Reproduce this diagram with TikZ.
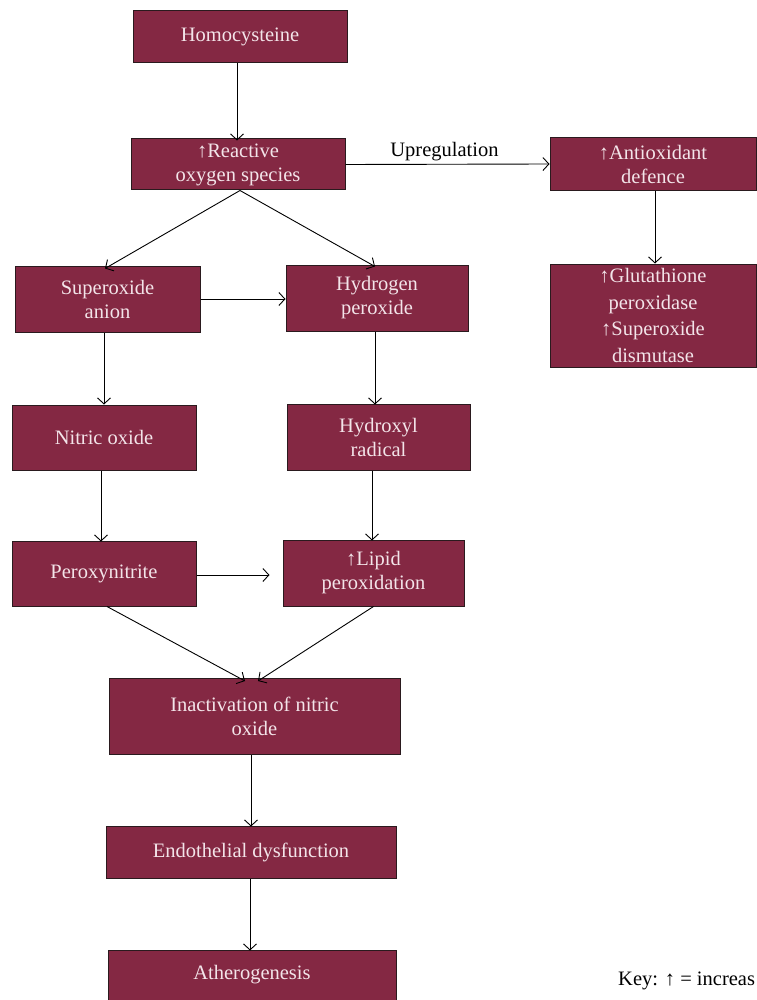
\documentclass[tikz,border=0pt]{standalone}
\usepackage{fontspec}
\setmainfont{Liberation Serif}
\usetikzlibrary{arrows.meta}
\definecolor{boxfill}{HTML}{842843}
\definecolor{boxtext}{HTML}{F3E4E9}
\definecolor{boxline}{HTML}{2A1A1E}
\tikzset{
  fbox/.style={draw=boxline, line width=1pt, fill=boxfill, text=boxtext, align=center,
    font=\fontsize{20.5}{24}\selectfont, inner sep=0pt, minimum width=#1},
  arr/.style={draw=black, line width=0.9pt, -{Straight Barb[length=6pt,width=13pt,line width=0.9pt]}},
}
\begin{document}
\begin{tikzpicture}[x=1pt,y=-1pt]
\useasboundingbox (0,0) rectangle (756,1000);
\node[fbox=214, minimum height=52] (homo) at (240,37) {Homocysteine};
\node[fbox=214, minimum height=51] (ros) at (238,164.5) {↑Reactive\\oxygen species};
\node[fbox=206, minimum height=53] (anti) at (653,164) {↑Antioxidant\\defence};
\node[fbox=206, minimum height=103, font=\fontsize{20.5}{26.5}\selectfont] (glut) at (653,315.5) {↑Glutathione\\peroxidase\\↑Superoxide\\dismutase};
\node[fbox=185, minimum height=66] (sup) at (107.5,299) {Superoxide\\anion};
\node[fbox=182, minimum height=66] (hyd) at (377,298) {Hydrogen\\peroxide};
\node[fbox=184, minimum height=65] (nit) at (104,437.5) {Nitric oxide};
\node[fbox=183, minimum height=66] (hydx) at (378.5,437) {Hydroxyl\\radical};
\node[fbox=184, minimum height=65] (perox) at (104,573.5) {Peroxynitrite};
\node[fbox=181, minimum height=66] (lipid) at (373.5,573) {↑Lipid\\peroxidation};
\node[fbox=291, minimum height=76] (inact) at (254.5,716.5) {Inactivation of nitric\\oxide};
\node[fbox=290, minimum height=52] (endo) at (251,852) {Endothelial dysfunction};
\node[fbox=288, minimum height=50] (ath) at (252,975) {Atherogenesis};
\node[anchor=base west, inner sep=0pt, font=\fontsize{20.5}{24}\selectfont] (key) at (618,985) {Key: ↑ = increas};

\draw[arr] ([xshift=-3]homo.south) -- ([xshift=-1,yshift=-2]ros.north);
\draw[arr] ([xshift=2]ros.south) -- ([xshift=-2.5,yshift=-3]sup.north);
\draw[arr] ([xshift=2]ros.south) -- ([xshift=-2,yshift=-2]hyd.north);
\draw[arr] (ros.east) -- node[above=3pt, xshift=-3pt, font=\fontsize{20.5}{24}\selectfont, inner sep=0pt] (upl) {Upregulation} (anti.west);
\draw[arr] ([xshift=2]anti.south) -- ([xshift=2]anti.south |- glut.north);
\draw[arr] (sup.east) -- (sup.east -| hyd.west);
\draw[arr] ([xshift=-3.5]sup.south) -- ([xshift=-3.5]sup.south |- nit.north);
\draw[arr] ([xshift=-2]hyd.south) -- ([xshift=-2,yshift=-1]hyd.south |- hydx.north);
\draw[arr] ([xshift=-3]nit.south) -- ([xshift=-3,yshift=-1]nit.south |- perox.north);
\draw[arr] ([xshift=-6.5]hydx.south) -- ([xshift=-6.5,yshift=-1]hydx.south |- lipid.north);
\draw[arr] ([yshift=-1.5]perox.east) -- ([xshift=-13,yshift=-1.5]perox.east -| lipid.west);
\draw[arr] ([xshift=3]perox.south) -- ([xshift=-9.5,yshift=-3]inact.north);
\draw[arr] (lipid.south) -- ([xshift=3.5,yshift=-3]inact.north);
\draw[arr] ([xshift=-3.5]inact.south) -- ([xshift=-3.5,yshift=-1]inact.south |- endo.north);
\draw[arr] ([xshift=-1]endo.south) -- ([xshift=-1,yshift=-1]endo.south |- ath.north);
\end{tikzpicture}
\end{document}
